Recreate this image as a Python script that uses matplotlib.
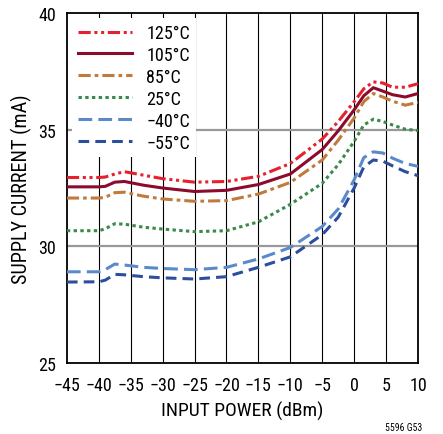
import matplotlib
matplotlib.use("Agg")
import matplotlib.pyplot as plt

plt.rcParams['font.family'] = ['Roboto Condensed', 'DejaVu Sans']

# input power (dBm)
power = [-45, -40, -39, -37.5, -36, -33, -30, -25, -20, -15, -10, -5, -2.5, 0, 1.5, 3, 4.5, 6, 8, 10]

# supply current (mA) per temperature
i_125 = [32.95, 32.95, 32.97, 33.10, 33.20, 33.05, 32.90, 32.75, 32.78, 33.00, 33.55, 34.60, 35.35, 36.20, 36.75, 37.05, 37.00, 36.82, 36.82, 36.97]
i_105 = [32.55, 32.55, 32.57, 32.75, 32.78, 32.62, 32.50, 32.35, 32.40, 32.65, 33.10, 34.15, 34.95, 35.85, 36.45, 36.80, 36.65, 36.50, 36.40, 36.55]
i_85 = [32.07, 32.07, 32.10, 32.30, 32.32, 32.15, 32.03, 31.93, 31.96, 32.24, 32.74, 33.70, 34.55, 35.50, 36.20, 36.55, 36.40, 36.22, 36.05, 36.17]
i_25 = [30.67, 30.67, 30.75, 30.97, 30.95, 30.82, 30.74, 30.63, 30.67, 31.05, 31.80, 32.70, 33.50, 34.50, 35.20, 35.45, 35.35, 35.20, 35.02, 34.96]
i_m40 = [28.91, 28.91, 29.00, 29.24, 29.20, 29.10, 29.05, 29.00, 29.10, 29.46, 29.95, 30.85, 31.60, 32.85, 33.80, 34.05, 34.00, 33.78, 33.55, 33.43]
i_m55 = [28.47, 28.48, 28.55, 28.80, 28.78, 28.70, 28.65, 28.60, 28.70, 29.10, 29.55, 30.50, 31.25, 32.50, 33.40, 33.70, 33.65, 33.45, 33.20, 33.03]

labels = ['125°C', '105°C', '85°C', '25°C', '\u221240°C', '\u221255°C']
xticks = [-45, -40, -35, -30, -25, -20, -15, -10, -5, 0, 5, 10]
yticks = [25, 30, 35, 40]

fig = plt.figure(figsize=(4.43, 4.35), dpi=100)
ax = fig.add_axes([0.151, 0.1632, 0.7926, 0.8046])

for xv in xticks[1:-1]:
    ax.axvline(xv, color='black', lw=0.8, zorder=1)
for yv in [30, 35]:
    ax.axhline(yv, color='#999999', lw=1.6, zorder=1)

lw = 2.2
ax.plot(power, i_125, color='#E8202E', lw=lw, dashes=(4, 1.2, 1, 1.2, 1, 1.2), label=labels[0], zorder=3)
ax.plot(power, i_105, color='#8C0B2C', lw=lw, label=labels[1], zorder=3)
ax.plot(power, i_85, color='#C27A3C', lw=lw, dashes=(4, 1.3, 1.2, 1.3), label=labels[2], zorder=3)
ax.plot(power, i_25, color='#3B8A4C', lw=lw, dashes=(1.1, 1.1), label=labels[3], zorder=3)
ax.plot(power, i_m40, color='#5B8ACB', lw=lw, dashes=(4.5, 2), label=labels[4], zorder=3)
ax.plot(power, i_m55, color='#2D4D9E', lw=lw, dashes=(3.5, 2), label=labels[5], zorder=3)

ax.set_xlim(-45, 10)
ax.set_ylim(25, 40)
ax.set_xticks(xticks)
ax.set_xticklabels([str(v).replace('-', '\u2212') for v in xticks])
ax.set_yticks(yticks)
ax.tick_params(axis='x', length=0, labelsize=13, pad=9)
ax.tick_params(axis='y', length=0, labelsize=13, pad=8)
for s in ax.spines.values():
    s.set_linewidth(1.3)

ax.set_xlabel('INPUT POWER (dBm)', fontsize=14, labelpad=5)
ax.set_ylabel('SUPPLY CURRENT (mA)', fontsize=14.5, labelpad=4)

leg = ax.legend(loc='upper left', fontsize=13, frameon=True, facecolor='white',
                edgecolor='none', framealpha=1, fancybox=False, handlelength=3.0,
                handletextpad=0.8, labelspacing=0.22, borderpad=0.3,
                borderaxespad=0.3)
leg.set_zorder(5)

fig.text(0.953, 0.005, '5596 G53', fontsize=7, ha='right', va='bottom')

fig.savefig('out.png', dpi=100)
